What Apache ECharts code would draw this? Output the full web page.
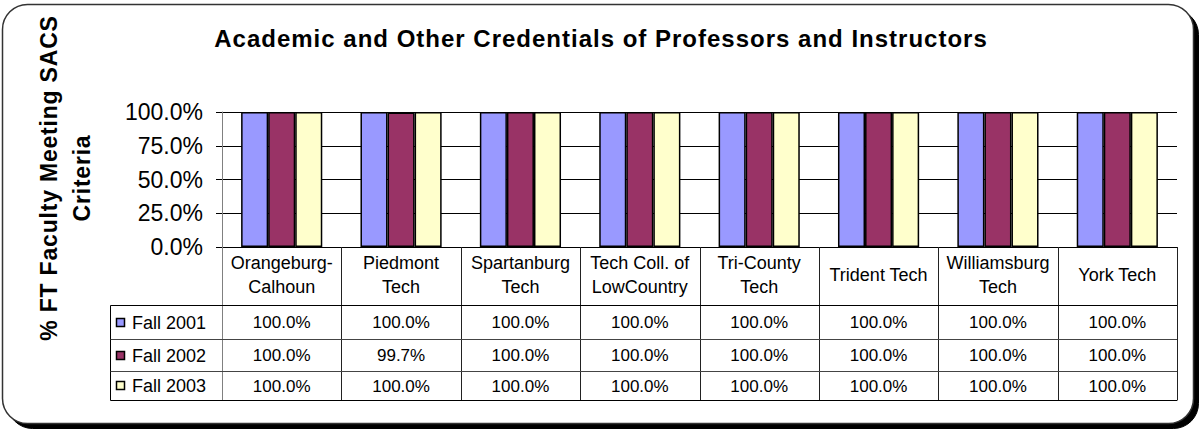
<!DOCTYPE html>
<html>
<head>
<meta charset="utf-8">
<script src="https://cdn.jsdelivr.net/npm/echarts@6/dist/echarts.min.js"></script>
<style>
html,body{margin:0;padding:0;background:#fff;}
#main{width:1202px;height:430px;}
</style>
</head>
<body>
<div id="main"></div>
<script>
// ---- data ----
const titleText = 'Academic and Other Credentials of Professors and Instructors';
const yAxisTitle = '% FT Faculty Meeting SACS\nCriteria';
const categories = ['Orangeburg-\nCalhoun', 'Piedmont\nTech', 'Spartanburg\nTech', 'Tech Coll. of\nLowCountry', 'Tri-County\nTech', 'Trident Tech', 'Williamsburg\nTech', 'York Tech'];
const seriesNames = ['Fall 2001', 'Fall 2002', 'Fall 2003'];
const fall2001 = [100.0, 100.0, 100.0, 100.0, 100.0, 100.0, 100.0, 100.0];
const fall2002 = [100.0, 99.7, 100.0, 100.0, 100.0, 100.0, 100.0, 100.0];
const fall2003 = [100.0, 100.0, 100.0, 100.0, 100.0, 100.0, 100.0, 100.0];
const seriesColors = ['#9999FF', '#993366', '#FFFFCC'];

const seriesData = [fall2001, fall2002, fall2003];
const FONT = "'Liberation Sans', Arial, sans-serif";
const fmt = v => v.toFixed(1) + '%';

const chart = echarts.init(document.getElementById('main'), null, {renderer: 'svg'});

const GRID = {left: 222, right: 25, top: 112, bottom: 183};

chart.setOption({
  animation: false,
  backgroundColor: 'transparent',
  title: {
    text: titleText,
    left: 'center',
    top: 21,
    textStyle: {fontFamily: FONT, fontWeight: 'bold', fontSize: 24, color: '#000'}
  },
  grid: GRID,
  xAxis: {
    type: 'category',
    data: categories,
    axisLine: {show: true, lineStyle: {color: '#000', width: 1}},
    axisTick: {show: false},
    axisLabel: {show: false},
    splitLine: {show: false}
  },
  yAxis: {
    type: 'value',
    min: 0, max: 100, interval: 25,
    axisLine: {show: true, lineStyle: {color: '#808080', width: 1}},
    axisTick: {show: true, length: 6, lineStyle: {color: '#000'}},
    axisLabel: {
      margin: 19,
      fontFamily: FONT, fontSize: 23, color: '#000',
      formatter: v => fmt(v)
    },
    splitLine: {show: true, lineStyle: {color: '#000', width: 1}}
  },
  series: seriesNames.map((name, i) => ({
    name: name,
    type: 'bar',
    data: seriesData[i],
    barGap: '0%',
    barCategoryGap: '32%',
    itemStyle: {color: seriesColors[i], borderColor: '#000', borderWidth: 1.5}
  }))
});

// ---- data table, frame and axis title built from the same arrays ----
const cx = categories.map((c, i) => chart.convertToPixel({xAxisIndex: 0}, i));
const band = cx.length > 1 ? (cx[1] - cx[0]) : 120;
const plotLeft = cx[0] - band / 2;
const plotRight = cx[cx.length - 1] + band / 2;
const axisY = chart.convertToPixel({yAxisIndex: 0}, 0);

const rowLines = [305.5, 339.5, 371.5, 400.5];
const tableLeft = 110.5;

const g = [];
// outer rounded frame with hard shadow
g.push({
  type: 'rect', z: -11, silent: true,
  shape: {x: 7.5, y: 9.5, width: 1191, height: 419, r: 25},
  style: {fill: '#000', stroke: '#000', lineWidth: 1}
});
g.push({
  type: 'rect', z: -10, silent: true,
  shape: {x: 2.5, y: 4.5, width: 1191, height: 419, r: 25},
  style: {fill: '#fff', stroke: '#333', lineWidth: 1.5}
});
// y axis title
g.push({
  type: 'text', z: 10,
  x: 65, y: 178, rotation: Math.PI / 2,
  style: {text: yAxisTitle, fontFamily: FONT, fontWeight: 'bold', fontSize: 23, lineHeight: 33, fill: '#000', align: 'center', verticalAlign: 'middle'}
});
// vertical table lines
for (let i = 0; i <= categories.length; i++) {
  const x = Math.round(plotLeft + band * i) + 0.5;
  g.push({type: 'line', z: 10, shape: {x1: x, y1: axisY, x2: x, y2: rowLines[3]},
    style: {stroke: i === 0 ? '#808080' : '#222', lineWidth: 1}});
}
g.push({type: 'line', z: 10, shape: {x1: tableLeft, y1: rowLines[0], x2: tableLeft, y2: rowLines[3]}, style: {stroke: '#000', lineWidth: 1}});
// horizontal table lines
rowLines.forEach((y, k) => {
  g.push({type: 'line', z: 10, shape: {x1: tableLeft, y1: y, x2: plotRight, y2: y},
    style: {stroke: (k === 0 || k === 3) ? '#000' : '#444', lineWidth: 1}});
});
// header (category names)
categories.forEach((c, i) => {
  g.push({type: 'text', z: 10, x: cx[i], y: 275,
    style: {text: c, fontFamily: FONT, fontSize: 18, lineHeight: 24, fill: '#000', align: 'center', verticalAlign: 'middle'}});
});
// rows
seriesNames.forEach((name, r) => {
  const yc = (rowLines[r] + rowLines[r + 1]) / 2;
  g.push({type: 'rect', z: 10, shape: {x: 116.5, y: Math.round(yc) - 4.5, width: 8, height: 8},
    style: {fill: seriesColors[r], stroke: '#000', lineWidth: 1.5}});
  g.push({type: 'text', z: 10, x: 132, y: yc,
    style: {text: name, fontFamily: FONT, fontSize: 18, fill: '#000', align: 'left', verticalAlign: 'middle'}});
  seriesData[r].forEach((v, i) => {
    g.push({type: 'text', z: 10, x: cx[i], y: yc,
      style: {text: fmt(v), fontFamily: FONT, fontSize: 17, fill: '#000', align: 'center', verticalAlign: 'middle'}});
  });
});

chart.setOption({graphic: g});

// Excel-style wide tracking on the titles
function applySpacing() {
  document.querySelectorAll('#main text').forEach(t => {
    const s = t.textContent;
    if (s === titleText) { t.setAttribute('letter-spacing', '1px'); t.style.letterSpacing = '1px'; }
    else if (s.indexOf('Faculty') >= 0 || s === 'Criteria') { t.setAttribute('letter-spacing', '0.8px'); t.style.letterSpacing = '0.8px'; }
  });
}
chart.on('finished', applySpacing);
setTimeout(applySpacing, 0);
</script>
</body>
</html>
